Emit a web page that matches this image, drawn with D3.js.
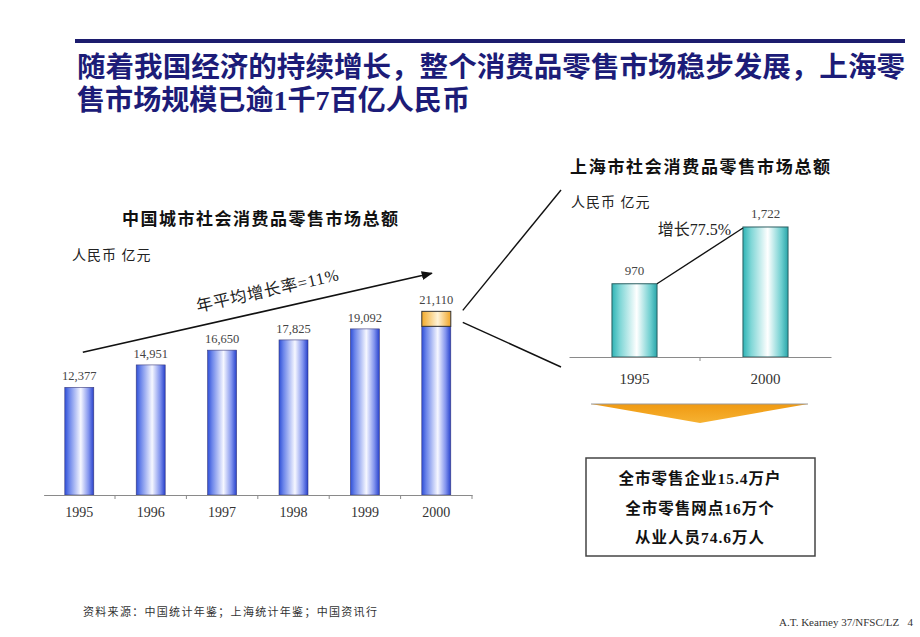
<!DOCTYPE html>
<html><head><meta charset="utf-8">
<script src="https://d3js.org/d3.v7.min.js"></script>
<style>
html,body{margin:0;padding:0;background:#fff;}
svg{display:block;}
text{font-family:"Liberation Serif","Noto Sans CJK SC",serif;}
.cjk{font-family:"Liberation Serif","Noto Sans CJK SC",sans-serif;}
</style></head>
<body><div id="chart"></div>
<script>
// ---- data ----
const titleLines = ["随着我国经济的持续增长，整个消费品零售市场稳步发展，上海零", "售市场规模已逾1千7百亿人民币"];
const leftTitle = "中国城市社会消费品零售市场总额";
const rightTitle = "上海市社会消费品零售市场总额";
const unitLabel = "人民币 亿元";
const chinaYears = ["1995", "1996", "1997", "1998", "1999", "2000"];
const chinaTotals = [12377, 14951, 16650, 17825, 19092, 21110];
const shYears = ["1995", "2000"];
const shTotals = [970, 1722];
const cagrLabel = "年平均增长率=11%";
const growthLabel = "增长77.5%";
const boxLines = ["全市零售企业15.4万户", "全市零售网点16万个", "从业人员74.6万人"];
const sourceNote = "资料来源：中国统计年鉴；上海统计年鉴；中国资讯行";
const footerRight = "A.T. Kearney 37/NFSC/LZ   4";

const fmt = d3.format(",");
const W = 920, H = 637;
const svg = d3.select("#chart").append("svg").attr("width", W).attr("height", H);
svg.append("rect").attr("width", W).attr("height", H).attr("fill", "#fff");

// gradients
const defs = svg.append("defs");
function hGrad(id, stops) {
  const g = defs.append("linearGradient").attr("id", id).attr("x1", "0%").attr("x2", "100%").attr("y1", "0%").attr("y2", "0%");
  stops.forEach(s => g.append("stop").attr("offset", s[0]).attr("stop-color", s[1]));
}
hGrad("gBlue", [["0%", "#2f4fd6"], ["15%", "#6a84ea"], ["55%", "#f6f7ff"], ["82%", "#8294ee"], ["100%", "#2741cc"]]);
hGrad("gOrange", [["0%", "#f2aa2a"], ["55%", "#fff3d6"], ["100%", "#f0a528"]]);
hGrad("gCyan", [["0%", "#2fb4b6"], ["18%", "#7fd6d6"], ["55%", "#ffffff"], ["85%", "#6fcfd0"], ["100%", "#29a6aa"]]);
const tg = defs.append("linearGradient").attr("id", "gTri").attr("x1", "0").attr("x2", "0").attr("y1", "0").attr("y2", "1");
tg.append("stop").attr("offset", "0%").attr("stop-color", "#f09a12");
tg.append("stop").attr("offset", "100%").attr("stop-color", "#f6b232");

// ---- title ----
svg.append("rect").attr("x", 75).attr("y", 39).attr("width", 830).attr("height", 4).attr("fill", "#1c1c6e");
const titleW = [828, 393];
svg.selectAll(".title").data(titleLines).join("text")
  .attr("class", "cjk").attr("x", 77).attr("y", (d, i) => 77 + i * 33)
  .attr("font-size", 28).attr("font-weight", 700).attr("fill", "#1c1c78")
  .attr("textLength", (d, i) => titleW[i]).attr("lengthAdjust", "spacingAndGlyphs").text(d => d);

// ---- left chart ----
const xL = d3.scaleBand().domain(chinaYears).range([43.6, 472]).paddingInner(0.594).paddingOuter(0.297);
const yL = d3.scaleLinear().domain([0, 25000]).range([495, 277.5]);
const shMap = new Map(shYears.map((y, i) => [y, shTotals[i]]));

svg.append("text").attr("x", 122).attr("y", 225).attr("font-size", 17).attr("font-weight", 700)
  .attr("letter-spacing", 1.5).attr("fill", "#111").text(leftTitle);
svg.append("text").attr("x", 72).attr("y", 260).attr("font-size", 14).attr("fill", "#222")
  .attr("letter-spacing", 1).text(unitLabel);

const gL = svg.append("g");
chinaYears.forEach((yr, i) => {
  const tot = chinaTotals[i];
  const sh = yr === "2000" ? shMap.get(yr) : 0;
  const base = tot - sh;
  gL.append("rect").attr("x", xL(yr)).attr("width", xL.bandwidth())
    .attr("y", yL(base)).attr("height", yL(0) - yL(base))
    .attr("fill", "url(#gBlue)").attr("stroke", "#3a3a7a").attr("stroke-width", 0.6);
  if (sh) {
    gL.append("rect").attr("x", xL(yr)).attr("width", xL.bandwidth())
      .attr("y", yL(tot)).attr("height", yL(base) - yL(tot))
      .attr("fill", "url(#gOrange)").attr("stroke", "#333").attr("stroke-width", 1);
  }
  gL.append("text").attr("x", xL(yr) + xL.bandwidth() / 2).attr("y", yL(tot) - 7)
    .attr("text-anchor", "middle").attr("font-size", 12.5).attr("fill", "#444").text(fmt(tot));
});
// axis
const axL = d3.axisBottom(xL).tickSize(0).tickPadding(12);
const axLg = svg.append("g").attr("transform", `translate(0,${yL(0)})`).call(axL);
axLg.select(".domain").attr("stroke", "#8a8a8a");
axLg.selectAll("text").attr("font-size", 14).attr("fill", "#333").attr("font-family", "Liberation Serif");
const stepL = xL.step();
chinaYears.forEach((yr, i) => {
  const xb = xL.range()[0] + (i + 1) * stepL;
  svg.append("line").attr("x1", xb).attr("x2", xb).attr("y1", yL(0)).attr("y2", yL(0) + 4).attr("stroke", "#8a8a8a");
});

// CAGR arrow
const p0 = [xL("1995") + 18, yL(chinaTotals[0]) - 35];
const p1 = [xL("2000") + 10, yL(chinaTotals[5]) - 38];
defs.append("marker").attr("id", "arr").attr("viewBox", "0 0 10 10").attr("refX", 9).attr("refY", 5)
  .attr("markerWidth", 7).attr("markerHeight", 7).attr("orient", "auto")
  .append("path").attr("d", "M0,1 L10,5 L0,9 Z").attr("fill", "#111");
svg.append("line").attr("x1", p0[0]).attr("y1", p0[1]).attr("x2", p1[0]).attr("y2", p1[1])
  .attr("stroke", "#111").attr("stroke-width", 1.6).attr("marker-end", "url(#arr)");
const ang = Math.atan2(p1[1] - p0[1], p1[0] - p0[0]) * 180 / Math.PI;
svg.append("text").attr("transform", `translate(269,296) rotate(${ang})`).attr("text-anchor", "middle")
  .attr("font-size", 16.5).attr("fill", "#222").attr("letter-spacing", 0.8).text(cagrLabel);

// zoom lines
const zx0 = xL("2000") + xL.bandwidth() + 12;
svg.append("line").attr("x1", zx0).attr("y1", yL(chinaTotals[5]) - 1).attr("x2", 561).attr("y2", 190)
  .attr("stroke", "#111").attr("stroke-width", 1.4);
svg.append("line").attr("x1", zx0).attr("y1", yL(chinaTotals[5] - shTotals[1]) - 4).attr("x2", 561).attr("y2", 367)
  .attr("stroke", "#111").attr("stroke-width", 1.4);

// ---- right chart ----
const xR = d3.scaleBand().domain(shYears).range([569, 831]).paddingInner(0.656).paddingOuter(0.328);
const yR = d3.scaleLinear().domain([0, 2000]).range([357, 206]);
svg.append("text").attr("x", 570).attr("y", 173).attr("font-size", 17).attr("font-weight", 700)
  .attr("letter-spacing", 1.7).attr("fill", "#111").text(rightTitle);
svg.append("text").attr("x", 571).attr("y", 207).attr("font-size", 14).attr("fill", "#222")
  .attr("letter-spacing", 1).text(unitLabel);

shYears.forEach((yr, i) => {
  const v = shTotals[i];
  svg.append("rect").attr("x", xR(yr)).attr("width", xR.bandwidth())
    .attr("y", yR(v)).attr("height", yR(0) - yR(v))
    .attr("fill", "url(#gCyan)").attr("stroke", "#2b5f62").attr("stroke-width", 1);
  svg.append("text").attr("x", xR(yr) + xR.bandwidth() / 2).attr("y", yR(v) - 9)
    .attr("text-anchor", "middle").attr("font-size", 13).attr("fill", "#444").text(fmt(v));
});
const axR = d3.axisBottom(xR).tickSize(0).tickPadding(16);
const axRg = svg.append("g").attr("transform", `translate(0,${yR(0)})`).call(axR);
axRg.select(".domain").attr("stroke", "#8a8a8a");
axRg.selectAll("text").attr("font-size", 15).attr("fill", "#333").attr("font-family", "Liberation Serif");
const midR = xR.range()[0] + xR.step();
svg.append("line").attr("x1", midR).attr("x2", midR).attr("y1", yR(0)).attr("y2", yR(0) + 4).attr("stroke", "#8a8a8a");

// growth line
svg.append("line").attr("x1", xR("1995") + xR.bandwidth()).attr("y1", yR(shTotals[0]))
  .attr("x2", xR("2000")).attr("y2", yR(shTotals[1]) + 1).attr("stroke", "#111").attr("stroke-width", 1.4);
svg.append("text").attr("x", 731).attr("y", 235).attr("text-anchor", "end").attr("font-size", 16)
  .attr("fill", "#222").text(growthLabel);

// triangle
svg.append("path").attr("d", "M591,404 L808,404 L700,423 Z").attr("fill", "url(#gTri)");
svg.append("line").attr("x1", 591).attr("x2", 808).attr("y1", 404).attr("y2", 404).attr("stroke", "#9a9a9a").attr("stroke-width", 1);

// box
svg.append("rect").attr("x", 586).attr("y", 458).attr("width", 229).attr("height", 98)
  .attr("fill", "#fff").attr("stroke", "#444").attr("stroke-width", 1.5);
svg.selectAll(".boxt").data(boxLines).join("text")
  .attr("x", 700).attr("y", (d, i) => 484 + i * 29.5).attr("text-anchor", "middle")
  .attr("font-size", 15.5).attr("font-weight", 700).attr("letter-spacing", 1).attr("fill", "#111").text(d => d);

// footer
svg.append("text").attr("x", 83).attr("y", 616).attr("font-size", 11).attr("letter-spacing", 1.3)
  .attr("fill", "#333").text(sourceNote);
svg.append("text").attr("x", 913).attr("y", 626).attr("text-anchor", "end").attr("font-size", 11)
  .attr("fill", "#333").attr("xml:space", "preserve").style("white-space", "pre").text(footerRight);
</script>
</body></html>
